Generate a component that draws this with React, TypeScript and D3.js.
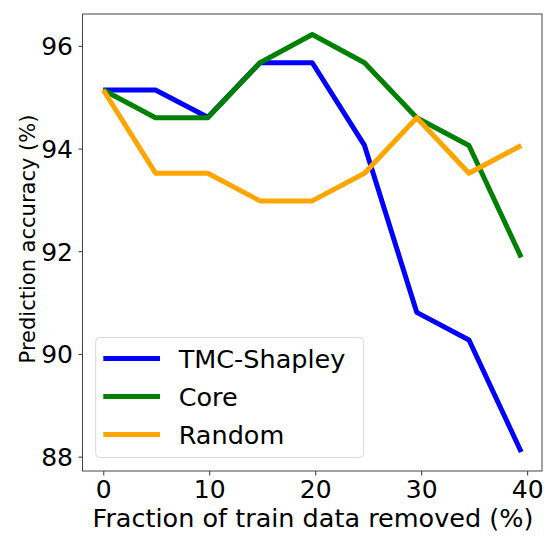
import { useEffect, useRef } from "react";
import * as d3 from "d3";

// fraction of train data removed (%)
const fractions = [0, 4.93, 9.86, 14.79, 19.72, 24.65, 29.58, 34.51, 39.44];
const tmcShapley = [95.14, 95.14, 94.61, 95.67, 95.67, 94.06, 90.81, 90.27, 88.09];
const core = [95.14, 94.6, 94.6, 95.67, 96.22, 95.67, 94.6, 94.06, 91.88];
const random = [95.14, 93.52, 93.52, 92.98, 92.98, 93.52, 94.6, 93.52, 94.06];

const seriesNames = ["TMC-Shapley", "Core", "Random"];
const seriesColors = ["#0000ff", "#008000", "#ffa500"];
const xTicks = [0, 10, 20, 30, 40];
const yTicks = [88, 90, 92, 94, 96];

const W = 550;
const H = 544;
const m = { top: 14, right: 8, bottom: 73, left: 82.5 };

const App = () => {
  const svgRef = useRef<SVGSVGElement>(null);

  useEffect(() => {
    const svg = d3.select(svgRef.current);
    svg.selectAll("*").remove();
    const font = "DejaVu Sans, sans-serif";

    const xScale = d3.scaleLinear().domain([-1.96, 41.4]).range([m.left, W - m.right]);
    const yScale = d3.scaleLinear().domain([87.72, 96.62]).range([H - m.bottom, m.top]);

    const series = [tmcShapley, core, random];

    const line = d3
      .line<number>()
      .x((_, i) => xScale(fractions[i]))
      .y((d) => yScale(d));

    // lines
    svg
      .append("g")
      .selectAll("path")
      .data(series)
      .join("path")
      .attr("d", (d) => line(d))
      .attr("fill", "none")
      .attr("stroke", (_, i) => seriesColors[i])
      .attr("stroke-width", 5)
      .attr("stroke-linejoin", "round");

    // axes
    const xAxis = d3.axisBottom(xScale).tickValues(xTicks).tickSize(4.5).tickPadding(5);
    const yAxis = d3.axisLeft(yScale).tickValues(yTicks).tickSize(4).tickPadding(5.5);

    const gx = svg.append("g").attr("transform", `translate(0,${H - m.bottom})`).call(xAxis);
    const gy = svg.append("g").attr("transform", `translate(${m.left},0)`).call(yAxis);
    [gx, gy].forEach((g) => {
      g.select(".domain").remove();
      g.selectAll("line").attr("stroke", "#333");
      g.selectAll("text")
        .attr("font-family", font)
        .attr("font-size", 25)
        .attr("fill", "#000");
    });
    gy.selectAll("text").attr("dy", "0.36em");

    // frame
    svg
      .append("rect")
      .attr("x", m.left)
      .attr("y", m.top)
      .attr("width", W - m.right - m.left)
      .attr("height", H - m.bottom - m.top)
      .attr("fill", "none")
      .attr("stroke", "#444")
      .attr("stroke-width", 1);

    // axis labels
    svg
      .append("text")
      .attr("x", 313)
      .attr("y", 527)
      .attr("text-anchor", "middle")
      .attr("font-family", font)
      .attr("font-size", 25.5)
      .text("Fraction of train data removed (%)");

    svg
      .append("text")
      .attr("transform", "rotate(-90)")
      .attr("x", -239)
      .attr("y", 35)
      .attr("text-anchor", "middle")
      .attr("font-family", font)
      .attr("font-size", 21)
      .text("Prediction accuracy (%)");

    // legend
    const lg = svg.append("g").attr("transform", "translate(95.7,337.5)");
    lg.append("rect")
      .attr("width", 268)
      .attr("height", 120)
      .attr("rx", 4)
      .attr("fill", "#fff")
      .attr("fill-opacity", 0.8)
      .attr("stroke", "#d9d9d9");
    const rows = lg
      .selectAll("g.row")
      .data(seriesNames)
      .join("g")
      .attr("class", "row")
      .attr("transform", (_, i) => `translate(0,${21 + i * 38})`);
    rows
      .append("line")
      .attr("x1", 7.6)
      .attr("x2", 64.3)
      .attr("stroke", (_, i) => seriesColors[i])
      .attr("stroke-width", 5);
    rows
      .append("text")
      .attr("x", 83)
      .attr("dy", "0.36em")
      .attr("font-family", font)
      .attr("font-size", 25.5)
      .text((d) => d);
  }, []);

  return (
    <svg
      ref={svgRef}
      width={W}
      height={H}
      style={{ position: "absolute", left: 0, top: 0, background: "#fff" }}
    ></svg>
  );
};

export default App;
